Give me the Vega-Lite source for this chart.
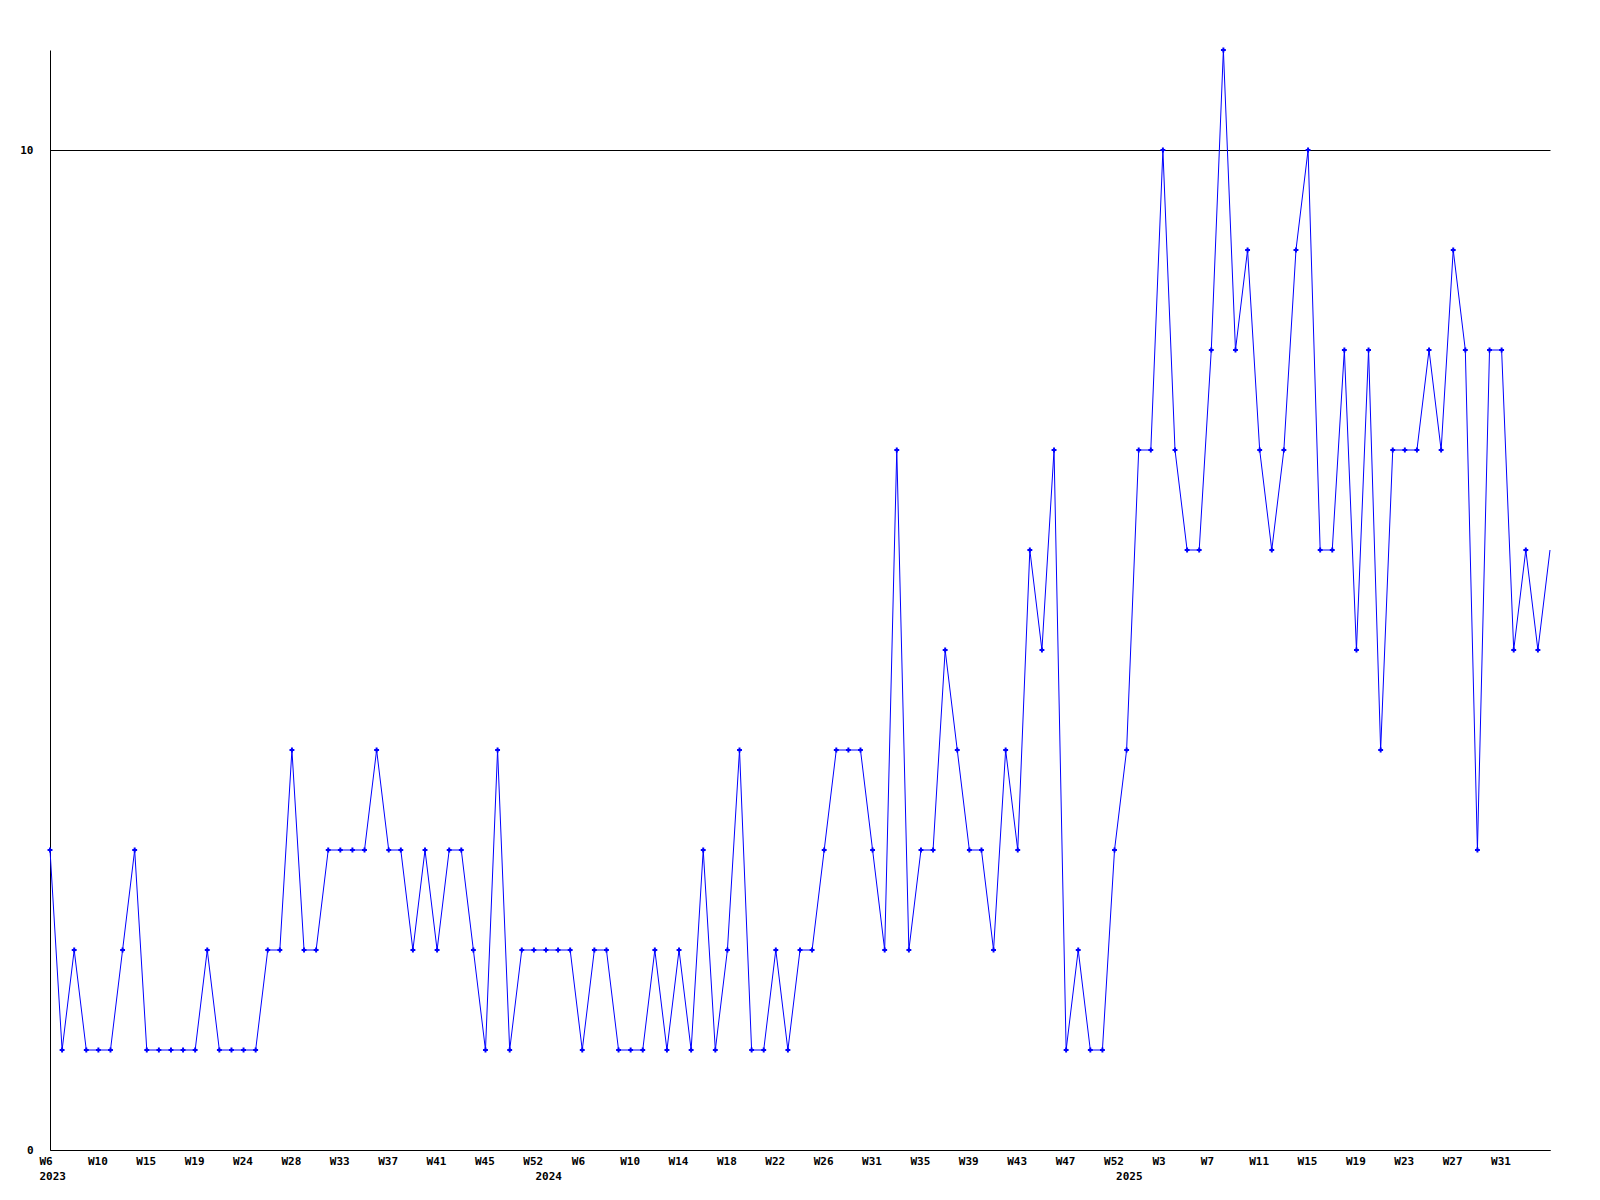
{
  "$schema": "https://vega.github.io/schema/vega-lite/v6.json",
  "autosize": "none",
  "width": 1500,
  "height": 1100,
  "padding": {"left": 50, "top": 50, "right": 50, "bottom": 50},
  "background": "white",
  "config": {
    "view": {"stroke": null},
    "axis": {
      "labelFont": "DejaVu Sans Mono",
      "labelFontWeight": "bold",
      "labelFontSize": 11,
      "labelColor": "black",
      "domainColor": "black",
      "domainWidth": 1,
      "ticks": false,
      "title": null
    }
  },
  "data": {
    "values": [
      {"i": 0, "v": 3}, {"i": 1, "v": 1}, {"i": 2, "v": 2}, {"i": 3, "v": 1}, {"i": 4, "v": 1},
      {"i": 5, "v": 1}, {"i": 6, "v": 2}, {"i": 7, "v": 3}, {"i": 8, "v": 1}, {"i": 9, "v": 1},
      {"i": 10, "v": 1}, {"i": 11, "v": 1}, {"i": 12, "v": 1}, {"i": 13, "v": 2}, {"i": 14, "v": 1},
      {"i": 15, "v": 1}, {"i": 16, "v": 1}, {"i": 17, "v": 1}, {"i": 18, "v": 2}, {"i": 19, "v": 2},
      {"i": 20, "v": 4}, {"i": 21, "v": 2}, {"i": 22, "v": 2}, {"i": 23, "v": 3}, {"i": 24, "v": 3},
      {"i": 25, "v": 3}, {"i": 26, "v": 3}, {"i": 27, "v": 4}, {"i": 28, "v": 3}, {"i": 29, "v": 3},
      {"i": 30, "v": 2}, {"i": 31, "v": 3}, {"i": 32, "v": 2}, {"i": 33, "v": 3}, {"i": 34, "v": 3},
      {"i": 35, "v": 2}, {"i": 36, "v": 1}, {"i": 37, "v": 4}, {"i": 38, "v": 1}, {"i": 39, "v": 2},
      {"i": 40, "v": 2}, {"i": 41, "v": 2}, {"i": 42, "v": 2}, {"i": 43, "v": 2}, {"i": 44, "v": 1},
      {"i": 45, "v": 2}, {"i": 46, "v": 2}, {"i": 47, "v": 1}, {"i": 48, "v": 1}, {"i": 49, "v": 1},
      {"i": 50, "v": 2}, {"i": 51, "v": 1}, {"i": 52, "v": 2}, {"i": 53, "v": 1}, {"i": 54, "v": 3},
      {"i": 55, "v": 1}, {"i": 56, "v": 2}, {"i": 57, "v": 4}, {"i": 58, "v": 1}, {"i": 59, "v": 1},
      {"i": 60, "v": 2}, {"i": 61, "v": 1}, {"i": 62, "v": 2}, {"i": 63, "v": 2}, {"i": 64, "v": 3},
      {"i": 65, "v": 4}, {"i": 66, "v": 4}, {"i": 67, "v": 4}, {"i": 68, "v": 3}, {"i": 69, "v": 2},
      {"i": 70, "v": 7}, {"i": 71, "v": 2}, {"i": 72, "v": 3}, {"i": 73, "v": 3}, {"i": 74, "v": 5},
      {"i": 75, "v": 4}, {"i": 76, "v": 3}, {"i": 77, "v": 3}, {"i": 78, "v": 2}, {"i": 79, "v": 4},
      {"i": 80, "v": 3}, {"i": 81, "v": 6}, {"i": 82, "v": 5}, {"i": 83, "v": 7}, {"i": 84, "v": 1},
      {"i": 85, "v": 2}, {"i": 86, "v": 1}, {"i": 87, "v": 1}, {"i": 88, "v": 3}, {"i": 89, "v": 4},
      {"i": 90, "v": 7}, {"i": 91, "v": 7}, {"i": 92, "v": 10}, {"i": 93, "v": 7}, {"i": 94, "v": 6},
      {"i": 95, "v": 6}, {"i": 96, "v": 8}, {"i": 97, "v": 11}, {"i": 98, "v": 8}, {"i": 99, "v": 9},
      {"i": 100, "v": 7}, {"i": 101, "v": 6}, {"i": 102, "v": 7}, {"i": 103, "v": 9}, {"i": 104, "v": 10},
      {"i": 105, "v": 6}, {"i": 106, "v": 6}, {"i": 107, "v": 8}, {"i": 108, "v": 5}, {"i": 109, "v": 8},
      {"i": 110, "v": 4}, {"i": 111, "v": 7}, {"i": 112, "v": 7}, {"i": 113, "v": 7}, {"i": 114, "v": 8},
      {"i": 115, "v": 7}, {"i": 116, "v": 9}, {"i": 117, "v": 8}, {"i": 118, "v": 3}, {"i": 119, "v": 8},
      {"i": 120, "v": 8}, {"i": 121, "v": 5}, {"i": 122, "v": 6}, {"i": 123, "v": 5}, {"i": 124, "v": 6}
    ]
  },
  "encoding": {
    "x": {
      "field": "i",
      "type": "quantitative",
      "scale": {"domain": [0, 124], "nice": false, "zero": false},
      "axis": {
        "values": [0, 4, 8, 12, 16, 20, 24, 28, 32, 36, 40, 41, 44, 48, 52, 56, 60, 64, 68, 72, 76, 80, 84, 88, 89, 92, 96, 100, 104, 108, 112, 116, 120],
        "labelExpr": "datum.value == 0 ? ['W6','2023'] : datum.value == 41 ? [' ','2024'] : datum.value == 89 ? [' ','2025'] : ['W6','W10','W15','W19','W24','W28','W33','W37','W41','W45','W52','W6','W10','W14','W18','W22','W26','W31','W35','W39','W43','W47','W52','W3','W7','W11','W15','W19','W23','W27','W31'][floor(datum.value/4)]",
        "labelAlign": "left",
        "labelOffset": -11,
        "labelBaseline": "top",
        "labelPadding": 5,
        "labelLineHeight": 15,
        "labelOverlap": false,
        "labelFlush": false,
        "grid": false
      }
    },
    "y": {
      "field": "v",
      "type": "quantitative",
      "scale": {"domain": [0, 11], "nice": false, "zero": true},
      "axis": {
        "values": [0, 10],
        "grid": true,
        "gridColor": "black",
        "gridWidth": 1,
        "gridOpacity": 1,
        "labelPadding": 17,
        "labelOverlap": false,
        "labelFlush": false
      }
    }
  },
  "layer": [
    {
      "mark": {"type": "line", "color": "#0000FF", "strokeWidth": 1, "interpolate": "linear"}
    },
    {
      "transform": [{"filter": "datum.i < 124"}],
      "mark": {"type": "point", "shape": "cross", "filled": true, "color": "#0000FF", "size": 24, "opacity": 1}
    }
  ]
}
